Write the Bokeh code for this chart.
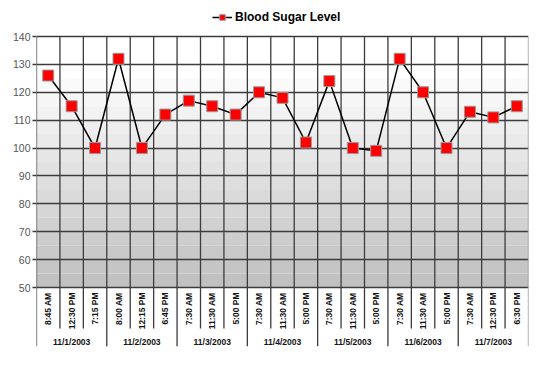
import numpy as np
from bokeh.plotting import figure
from bokeh.models import (FactorRange, Range1d, FixedTicker, Legend, LegendItem,
                          BoxAnnotation)
from bokeh.core.properties import value
from bokeh.embed import file_html
from bokeh.resources import INLINE

# ---------------- data ----------------
date_labels = ["11/1/2003", "11/2/2003", "11/3/2003", "11/4/2003",
               "11/5/2003", "11/6/2003", "11/7/2003"]
readings_per_day = [3, 3, 3, 3, 3, 3, 3]
time_labels = ["8:45 AM", "12:30 PM", "7:15 PM",
               "8:00 AM", "12:15 PM", "6:45 PM",
               "7:30 AM", "11:30 AM", "5:00 PM",
               "7:30 AM", "11:30 AM", "5:00 PM",
               "7:30 AM", "11:30 AM", "5:00 PM",
               "7:30 AM", "11:30 AM", "5:00 PM",
               "7:30 AM", "12:30 PM", "6:30 PM"]
sugar_level = [126, 115, 100, 132, 100, 112, 117, 115, 112, 120, 118,
               102, 124, 100, 99, 132, 120, 100, 113, 111, 115]
y_ticks = [50, 60, 70, 80, 90, 100, 110, 120, 130, 140]
series_name = "Blood Sugar Level"

# ---------------- factors ----------------
day_of_reading = []
for d, k in zip(date_labels, readings_per_day):
    day_of_reading += [d] * k
factors = list(zip(day_of_reading, time_labels))
n = len(factors)

# ---------------- layout constants (pixels) ----------------
W, H = 548, 372
B_LEFT, B_RIGHT, B_TOP, B_BOTTOM = 36, 20, 4, 26
frame_h = H - B_TOP - B_BOTTOM          # frame spans page y 4..346
plot_top_px = 36 - B_TOP                 # y of value 140 inside the frame
plot_px = 251.0                          # pixel height of the 50..140 area
y_lo, y_hi = min(y_ticks), max(y_ticks)
ppu = plot_px / (y_hi - y_lo)            # pixels per unit
y_end = y_hi + plot_top_px / ppu
y_start = y_hi - (frame_h - plot_top_px) / ppu

def px_below_top(px):
    return y_hi - px / ppu

sub_sep_bottom = px_below_top(292)
grp_sep_bottom = y_start
time_label_y = y_lo - 5 / ppu
date_label_y = px_below_top(305)

FONT = value("Liberation Sans")
GRID = "#3c3c3c"

p = figure(width=W, height=H, output_backend="svg", toolbar_location=None,
           x_range=FactorRange(*factors, factor_padding=0, group_padding=0,
                               range_padding=0),
           y_range=Range1d(y_start, y_end),
           x_axis_location=None,
           min_border_left=B_LEFT, min_border_right=B_RIGHT,
           min_border_top=B_TOP, min_border_bottom=B_BOTTOM)
p.outline_line_color = None
p.background_fill_color = "white"
p.border_fill_color = "white"

# gradient background of the plot area
bands = 18
edges = np.linspace(y_lo, y_hi, bands + 1)
for b0, b1 in zip(edges[:-1], edges[1:]):
    mid = (b0 + b1) / 2
    v = int(round(255 - (128 - mid) / 78 * 64))
    v = max(190, min(255, v))
    p.add_layout(BoxAnnotation(bottom=b0, top=b1, fill_color=f"#{v:02x}{v:02x}{v:02x}",
                               fill_alpha=1, line_color=None, level="image"))

# y axis and grid
p.xgrid.visible = False
p.ygrid.ticker = FixedTicker(ticks=y_ticks)
p.ygrid.grid_line_color = GRID
p.ygrid.grid_line_width = 1.3
p.yaxis.ticker = FixedTicker(ticks=y_ticks)
p.yaxis.axis_line_color = None
p.yaxis.major_tick_out = 4
p.yaxis.major_tick_in = 0
p.yaxis.major_tick_line_color = GRID
p.yaxis.major_tick_line_width = 1.3
p.yaxis.minor_tick_line_color = None
p.yaxis.major_label_standoff = 2
p.yaxis.major_label_text_font = "Liberation Sans"
p.yaxis.major_label_text_font_size = "10.5px"
p.yaxis.major_label_text_color = "#555555"

# vertical separators (plot area + label area)
group_bounds = set(np.concatenate([[0], np.cumsum(readings_per_day)]).tolist())
bounds = list(range(n + 1))
bottoms = [grp_sep_bottom if b in group_bounds else sub_sep_bottom for b in bounds]
colors = ["#8c8c8c" if b == n else GRID for b in bounds]
p.segment(x0=bounds, y0=[y_hi] * len(bounds), x1=bounds, y1=bottoms,
          line_color=colors, line_width=1.3)

# x labels
p.text(x=factors, y=[time_label_y] * n, text=time_labels, angle=np.pi / 2,
       text_align="right", text_baseline="middle", text_font=FONT,
       text_font_style="bold", text_font_size="8.5px", text_color="#111111")
p.text(x=date_labels, y=[date_label_y] * len(date_labels), text=date_labels,
       text_align="center", text_baseline="middle", text_font=FONT,
       text_font_style="bold", text_font_size="8.5px", text_color="#111111")

# series
line_r = p.line(x=factors, y=sugar_level, line_color="black", line_width=1.5)
pts_r = p.scatter(x=factors, y=sugar_level, marker="square", size=11,
                  fill_color="#ff0000", line_color="#9a9a9a", line_width=1)

legend = Legend(items=[LegendItem(label=series_name, renderers=[line_r, pts_r])],
                orientation="horizontal", location=(212 - B_LEFT, 346 - 24),
                border_line_color=None, background_fill_alpha=0,
                label_text_font="Liberation Sans", label_text_font_style="bold",
                label_text_font_size="12px", label_text_color="black",
                glyph_width=20, glyph_height=14, label_height=14,
                padding=0, margin=0, label_standoff=3)
p.add_layout(legend, "center")

open("out.html", "w").write(file_html(p, INLINE))
